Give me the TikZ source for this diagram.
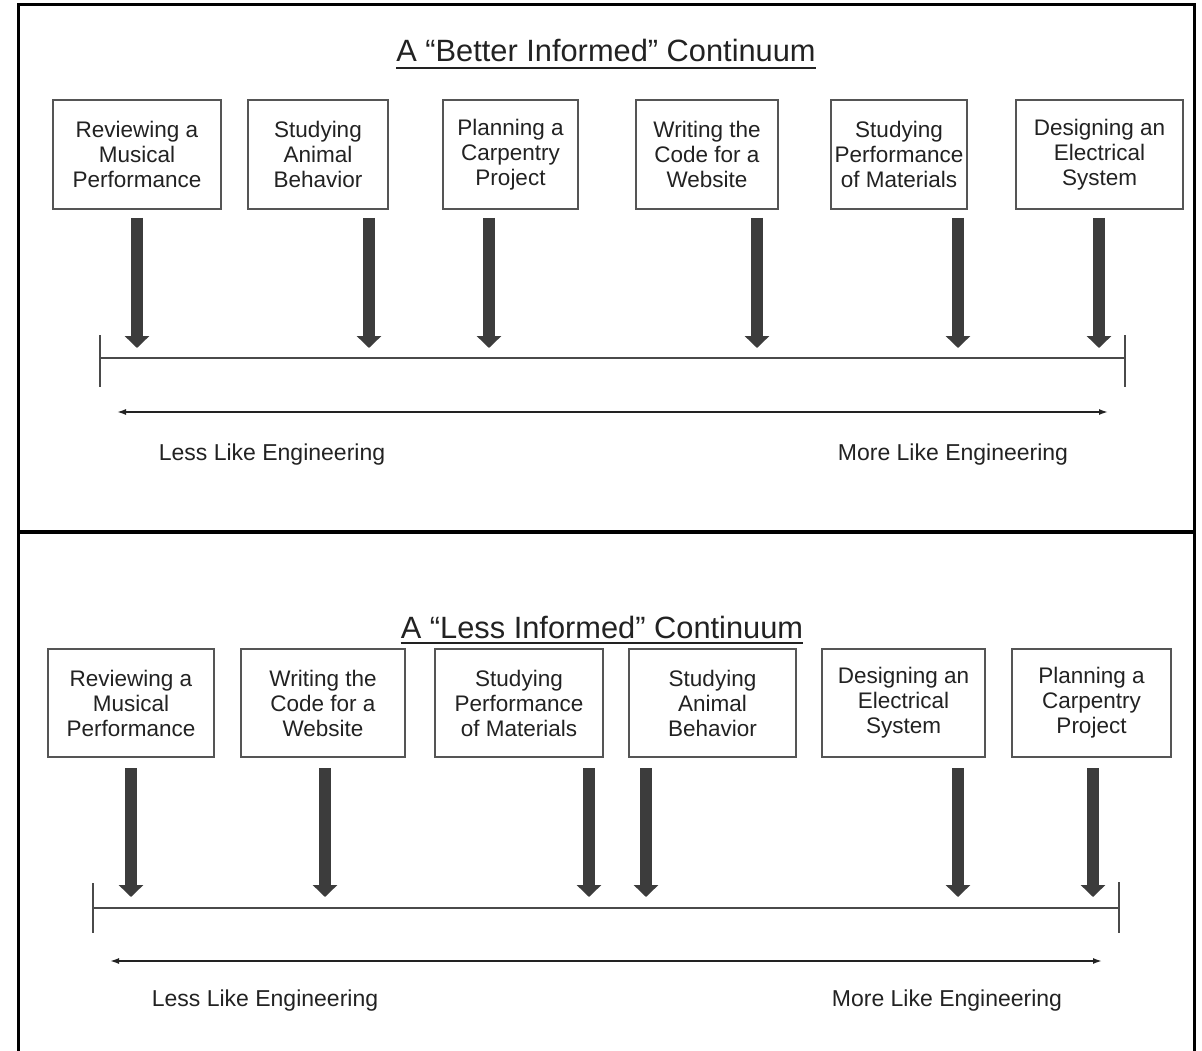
\documentclass[tikz,border=0pt]{standalone}
\usepackage{fontspec}
\setmainfont{Liberation Sans}
\usetikzlibrary{arrows.meta}
\definecolor{inkc}{HTML}{222222}
\definecolor{boxc}{HTML}{555555}
\definecolor{arrc}{HTML}{3C3C3C}
\definecolor{axc}{HTML}{4A4A4A}
\begin{document}
\begin{tikzpicture}[x=1pt,y=-1pt,
  box/.style={draw=boxc, line width=1.6pt, inner sep=0pt, minimum height=109pt,
    align=center, text=inkc, font=\fontsize{22.5}{25}\selectfont},
  fatarrow/.style={draw=arrc, line width=12pt, -{Triangle[width=24pt,length=12pt]}},
  axisline/.style={draw=axc, line width=1.6pt},
  rangearrow/.style={draw=inkc, line width=1.6pt, {Latex[length=9pt,width=6pt]}-{Latex[length=9pt,width=6pt]}},
  lbl/.style={text=inkc, inner sep=0pt, font=\fontsize{23}{26}\selectfont},
  ttl/.style={text=inkc, inner sep=0pt, anchor=base, font=\fontsize{30.8}{34}\selectfont}]
\useasboundingbox (0,0) rectangle (1202,1051);
\fill[white] (0,0) rectangle (1202,1051);
% frame
\draw[black, line width=3pt] (18,1060) -- (18,5) -- (1194,5) -- (1194,1060);
\draw[black, line width=4pt] (18,532) -- (1194,532);

% ===== top panel =====
\node[ttl] (T1) at (606,62) {A “Better Informed” Continuum};
\draw[inkc, line width=1.6pt] ([yshift=-6pt]T1.base west) -- ([yshift=-6pt]T1.base east);

\node[box, minimum width=168pt] (a1) at (137,154.5) {Reviewing a\\Musical\\Performance};
\node[box, minimum width=140pt] (a2) at (318,154.5) {Studying\\Animal\\Behavior};
\node[box, minimum width=135pt] (a3) at (510.5,154.5) {Planning a\\Carpentry\\Project};
\node[box, minimum width=142pt] (a4) at (707,154.5) {Writing the\\Code for a\\Website};
\node[box, minimum width=136pt] (a5) at (899,154.5) {Studying\\Performance\\of Materials};
\node[box, minimum width=167pt] (a6) at (1099.5,154.5) {Designing an\\Electrical\\System};

\foreach \i/\x in {1/137,2/369,3/489,4/757,5/958,6/1099}{
  \coordinate (as\i) at (\x,218);
  \coordinate (ae\i) at (\x,348);
  \draw[fatarrow] (as\i) -- (ae\i);
}
\coordinate (axL1) at (100,358);
\coordinate (axR1) at (1125,358);
\draw[axisline] (axL1) -- (axR1);
\draw[axisline] ([yshift=23pt]axL1) -- ([yshift=-29pt]axL1);
\draw[axisline] ([yshift=23pt]axR1) -- ([yshift=-29pt]axR1);
\coordinate (rL1) at (117,412);
\coordinate (rR1) at (1108,412);
\draw[rangearrow] (rL1) -- (rR1);
\node[lbl] (less1) at (272,455) {Less Like Engineering};
\node[lbl] (more1) at (953,455) {More Like Engineering};

% ===== bottom panel =====
\node[ttl] (T2) at (602,638) {A “Less Informed” Continuum};
\draw[inkc, line width=1.6pt] ([yshift=-5pt]T2.base west) -- ([yshift=-5pt]T2.base east);

\node[box, minimum width=166pt, minimum height=108pt] (b1) at (131,703) {Reviewing a\\Musical\\Performance};
\node[box, minimum width=164pt, minimum height=108pt] (b2) at (323,703) {Writing the\\Code for a\\Website};
\node[box, minimum width=168pt, minimum height=108pt] (b3) at (519,703) {Studying\\Performance\\of Materials};
\node[box, minimum width=167pt, minimum height=108pt] (b4) at (712.5,703) {Studying\\Animal\\Behavior};
\node[box, minimum width=163pt, minimum height=108pt] (b5) at (903.5,703) {Designing an\\Electrical\\System};
\node[box, minimum width=159pt, minimum height=108pt] (b6) at (1091.5,703) {Planning a\\Carpentry\\Project};

\foreach \i/\x in {1/131,2/325,3/589,4/646,5/958,6/1093}{
  \coordinate (bs\i) at (\x,768);
  \coordinate (be\i) at (\x,897);
  \draw[fatarrow] (bs\i) -- (be\i);
}
\coordinate (axL2) at (93,908);
\coordinate (axR2) at (1119,908);
\draw[axisline] (axL2) -- (axR2);
\draw[axisline] ([yshift=25pt]axL2) -- ([yshift=-25pt]axL2);
\draw[axisline] ([yshift=26pt]axR2) -- ([yshift=-25pt]axR2);
\coordinate (rL2) at (110,961);
\coordinate (rR2) at (1102,961);
\draw[rangearrow] (rL2) -- (rR2);
\node[lbl] (less2) at (265,1001) {Less Like Engineering};
\node[lbl] (more2) at (947,1001) {More Like Engineering};
\end{tikzpicture}
\end{document}
